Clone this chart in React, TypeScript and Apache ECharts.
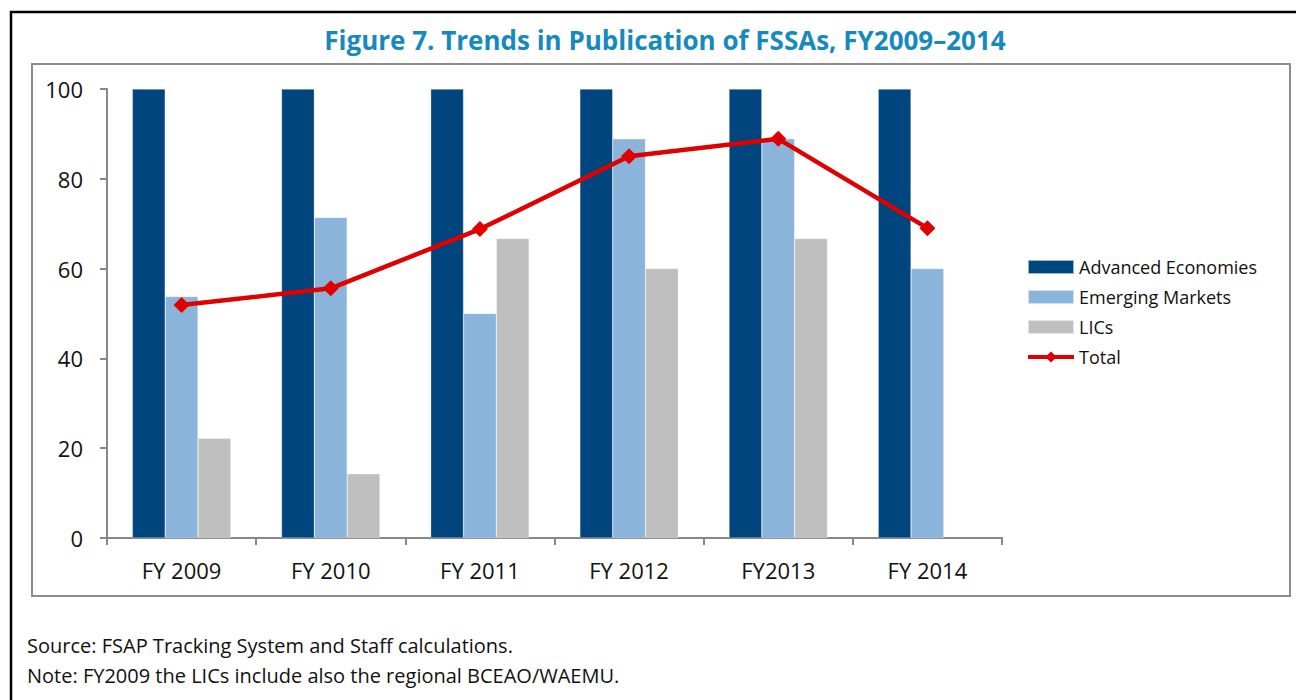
import React, { useEffect, useRef } from "react";
import * as echarts from "echarts";

const categories = ["FY 2009", "FY 2010", "FY 2011", "FY 2012", "FY2013", "FY 2014"];
const advanced = [100, 100, 100, 100, 100, 100];
const emerging = [53.8, 71.4, 50.0, 88.9, 88.9, 60.0];
const lics = [22.2, 14.3, 66.7, 60.0, 66.7, null];
const total = [51.9, 55.6, 68.8, 85.0, 88.9, 69.0];
const yTicks = { min: 0, max: 100, interval: 20 };

const FONT = "'Open Sans', 'Noto Sans', sans-serif";

export default function App() {
  const ref = useRef<HTMLDivElement>(null);
  useEffect(() => {
    if (!ref.current) return;
    const chart = echarts.init(ref.current, null, { renderer: "svg" });
    chart.setOption({
      animation: false,
      backgroundColor: "#ffffff",
      textStyle: { fontFamily: FONT },
      title: {
        text: "Figure 7. Trends in Publication of FSSAs, FY2009\u20132014",
        left: 660,
        textAlign: "center",
        top: 22,
        textStyle: { color: "#1689bd", fontSize: 26, fontWeight: "bold", fontFamily: FONT },
      },
      graphic: [
        {
          type: "rect",
          shape: { x: 11, y: 12, width: 1330, height: 720 },
          style: { fill: "none", stroke: "#000000", lineWidth: 2.5 },
          silent: true,
          z: -10,
        },
        {
          type: "rect",
          shape: { x: 32, y: 64, width: 1258, height: 532 },
          style: { fill: "none", stroke: "#8c8c8c", lineWidth: 2 },
          silent: true,
          z: -10,
        },
        {
          type: "text",
          x: 27,
          y: 645,
          style: {
            text: "Source: FSAP Tracking System and Staff calculations.",
            fill: "#111111",
            font: `20px ${FONT}`,
            verticalAlign: "middle",
          },
        },
        {
          type: "text",
          x: 27,
          y: 675,
          style: {
            text: "Note: FY2009 the LICs include also the regional BCEAO/WAEMU.",
            fill: "#111111",
            font: `20px ${FONT}`,
            verticalAlign: "middle",
          },
        },
      ],
      legend: {
        orient: "vertical",
        left: 1026,
        top: 258,
        padding: 0,
        itemWidth: 46,
        itemHeight: 14,
        itemGap: 12,
        textStyle: { fontSize: 18, color: "#111111", fontFamily: FONT },
        data: [
          { name: "Advanced Economies", icon: "rect" },
          { name: "Emerging Markets", icon: "rect" },
          { name: "LICs", icon: "rect" },
          { name: "Total", lineStyle: { width: 4, color: "#e00000" }, itemStyle: { color: "#e00000" } },
        ],
      },
      grid: { left: 107, top: 89, right: 294, bottom: 162, containLabel: false },
      xAxis: {
        type: "category",
        data: categories,
        axisLine: { lineStyle: { color: "#888888", width: 2 } },
        axisTick: { show: true, alignWithLabel: false, length: 7, lineStyle: { color: "#888888", width: 2 } },
        axisLabel: { fontSize: 22, color: "#111111", margin: 21, fontFamily: FONT },
        splitLine: { show: false },
      },
      yAxis: {
        type: "value",
        min: yTicks.min,
        max: yTicks.max,
        interval: yTicks.interval,
        axisLine: { show: true, lineStyle: { color: "#888888", width: 2 } },
        axisTick: { show: true, length: 7, lineStyle: { color: "#888888", width: 2 } },
        axisLabel: { fontSize: 22, color: "#111111", margin: 24, fontFamily: FONT },
        splitLine: { show: false },
      },
      series: [
        {
          name: "Advanced Economies",
          type: "bar",
          data: advanced,
          barGap: "0%",
          barCategoryGap: "34%",
          itemStyle: { color: "#00457e", borderColor: "rgba(255,255,255,0.6)", borderWidth: 0.5 },
        },
        {
          name: "Emerging Markets",
          type: "bar",
          data: emerging,
          itemStyle: { color: "#8ab4d9", borderColor: "rgba(255,255,255,0.6)", borderWidth: 0.5 },
        },
        {
          name: "LICs",
          type: "bar",
          data: lics,
          itemStyle: { color: "#bfbfbf", borderColor: "rgba(255,255,255,0.6)", borderWidth: 0.5 },
        },
        {
          name: "Total",
          type: "line",
          data: total,
          symbol: "diamond",
          symbolSize: 16,
          lineStyle: { color: "#e00000", width: 4.5 },
          itemStyle: { color: "#e00000" },
          z: 5,
        },
      ],
    });
    return () => chart.dispose();
  }, []);
  return (
    <div
      ref={ref}
      style={{ position: "absolute", left: 0, top: 0, width: 1296, height: 700 }}
    />
  );
}
